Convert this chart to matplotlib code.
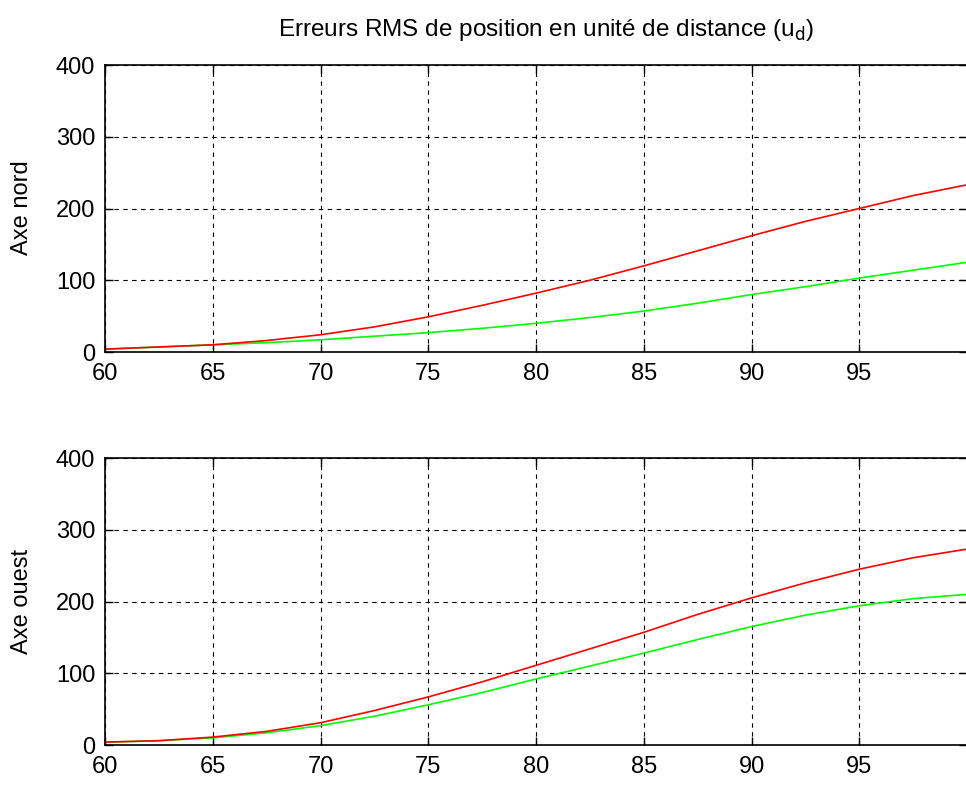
import matplotlib
matplotlib.use("Agg")
import matplotlib.pyplot as plt
import numpy as np

plt.rcParams['font.family'] = ['Liberation Sans', 'DejaVu Sans']

x = [60, 62.5, 65, 67.5, 70, 72.5, 75, 77.5, 80, 82.5, 85, 87.5, 90, 92.5, 95, 97.5, 100]
nord_red = [4, 7, 10, 16, 24, 35, 49, 65, 82, 100, 120, 141, 162, 182, 200, 218, 233]
nord_green = [4, 7, 10, 13, 17, 22, 27, 33, 40, 48, 57, 68, 80, 91, 103, 114, 125]
ouest_red = [4, 6, 11, 19, 31, 48, 67, 88, 111, 134, 157, 182, 205, 226, 245, 261, 273]
ouest_green = [4, 6, 10, 17, 27, 40, 56, 73, 92, 110, 128, 147, 165, 181, 194, 204, 210]
xticks = [60, 65, 70, 75, 80, 85, 90, 95]
yticks = [0, 100, 200, 300, 400]

fig = plt.figure(figsize=(9.66, 7.87), dpi=100)
W, H = 966, 787
left = 105 / W
width = (967 - 105) / W
h = 287 / H
ax1 = fig.add_axes([left, 1 - 352 / H, width, h])
ax2 = fig.add_axes([left, 1 - 745 / H, width, h])

for ax, r, g in [(ax1, nord_red, nord_green), (ax2, ouest_red, ouest_green)]:
    ax.plot(x, g, color='#00ff00', lw=1.2)
    ax.plot(x, r, color='#ff0000', lw=1.2)
    ax.set_xlim(60, 100)
    ax.set_ylim(0, 400)
    ax.set_xticks(xticks)
    ax.set_yticks(yticks)
    ax.grid(True, color='black', linestyle=(0, (4, 4)), linewidth=0.8)
    ax.tick_params(direction='in', top=True, right=True, length=6, width=1,
                   labelsize=17, colors='black')
    ax.tick_params(axis='x', pad=8)
    ax.tick_params(axis='y', pad=7)
    for s in ax.spines.values():
        s.set_linewidth(1.2)

fig.text(22 / W, 1 - 208 / H, 'Axe nord', rotation=90, ha='center', va='center', fontsize=17)
fig.text(22 / W, 1 - 601 / H, 'Axe ouest', rotation=90, ha='center', va='center', fontsize=17)
fig.text(546 / W, 1 - 30 / H, r'Erreurs RMS de position en unité de distance (u$_\mathrm{d}$)',
         ha='center', va='center', fontsize=17.5)

fig.savefig('out.png', dpi=100)
